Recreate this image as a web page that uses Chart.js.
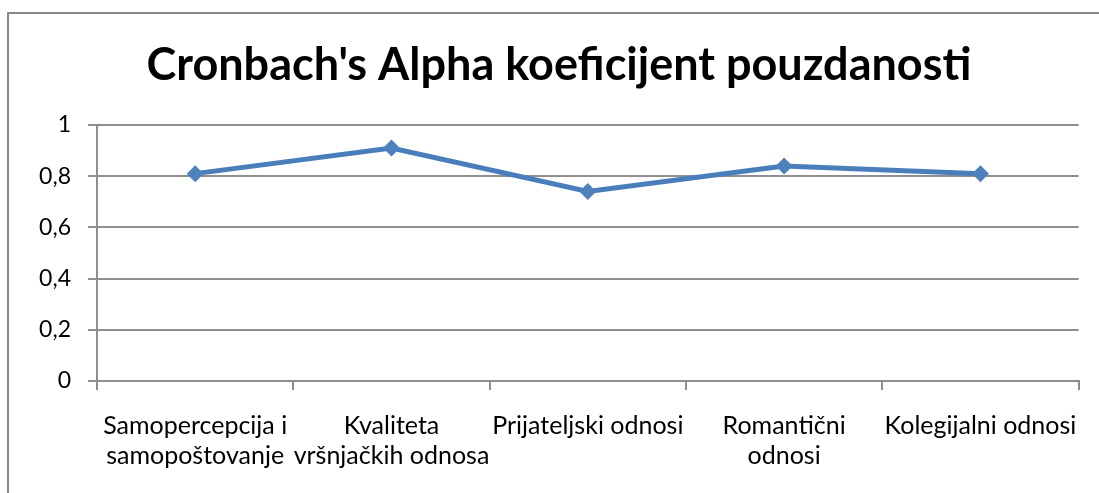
<!DOCTYPE html>
<html>
<head>
<meta charset="utf-8">
<script src="https://cdn.jsdelivr.net/npm/chart.js@4/dist/chart.umd.min.js"></script>
<style>
    html, body { margin: 0; padding: 0; background: #fff; overflow: hidden; }
    #wrap { position: relative; width: 1099px; height: 493px; }
    #frame {
        position: absolute; left: 7px; top: 12px; width: 1200px; height: 600px;
        border-top: 2px solid #8a8a8a; border-left: 2px solid #8a8a8a;
    }
    canvas { position: absolute; left: 0; top: 0; }
</style>
</head>
<body>
<div id="wrap">
    <div id="frame"></div>
    <canvas id="alphaChart" width="1099" height="493"></canvas>
</div>
<script>
const categories = [
    ['Samopercepcija i', 'samopoštovanje'],
    ['Kvaliteta', 'vršnjačkih odnosa'],
    'Prijateljski odnosi',
    ['Romantični', 'odnosi'],
    'Kolegijalni odnosi'
];
const alphaValues = [0.81, 0.91, 0.74, 0.84, 0.81];
const titleText = "Cronbach's Alpha koeficijent pouzdanosti";

const gridGray = '#8e8e8e';
const lineBlue = '#4a7ebb';

// title in the reference sits a bit right of the chart box centre
const shiftTitle = {
    id: 'shiftTitle',
    afterLayout(chart) {
        if (chart.titleBlock) {
            chart.titleBlock.left = 36;
        }
    }
};

const el = document.getElementById('alphaChart');

new Chart(el.getContext('2d'), {
    type: 'line',
    data: {
        labels: categories,
        datasets: [{
            label: 'Cronbach Alpha',
            data: alphaValues,
            borderColor: lineBlue,
            backgroundColor: lineBlue,
            borderWidth: 5,
            pointStyle: 'rectRot',
            pointRadius: 8.5,
            pointBorderWidth: 0,
            pointBackgroundColor: '#4f81bd',
            tension: 0,
        }]
    },
    options: {
        responsive: false,
        animation: false,
        layout: { padding: { left: 0, right: 17, top: 0, bottom: 0 } },
        plugins: {
            legend: { display: false },
            tooltip: { enabled: false },
            title: {
                display: true,
                text: titleText,
                color: '#000',
                font: { family: 'Lato', size: 45, weight: 'bold', lineHeight: 1.2 },
                padding: { top: 38, bottom: 33 },
            },
        },
        scales: {
            x: {
                offset: true,
                grid: {
                    offset: true,
                    drawOnChartArea: false,
                    tickLength: 9,
                    tickColor: gridGray,
                    lineWidth: 2,
                },
                border: { display: true, color: gridGray, width: 2 },
                ticks: {
                    color: '#000',
                    maxRotation: 0,
                    autoSkip: false,
                    padding: 21,
                    font: { family: 'Lato', size: 25, lineHeight: 1.2 },
                },
                afterFit: scale => { scale.height = 112; },
            },
            y: {
                min: 0,
                max: 1,
                ticks: {
                    stepSize: 0.2,
                    color: '#000',
                    padding: 17,
                    font: { family: 'Lato', size: 23 },
                    callback: v => String(Math.round(v * 10) / 10).replace('.', ','),
                },
                grid: {
                    color: gridGray,
                    lineWidth: 2,
                    tickLength: 9,
                },
                border: { display: true, color: gridGray, width: 2 },
                afterFit: scale => { scale.width = 97; },
            }
        }
    },
    plugins: [shiftTitle]
});
</script>
</body>
</html>
